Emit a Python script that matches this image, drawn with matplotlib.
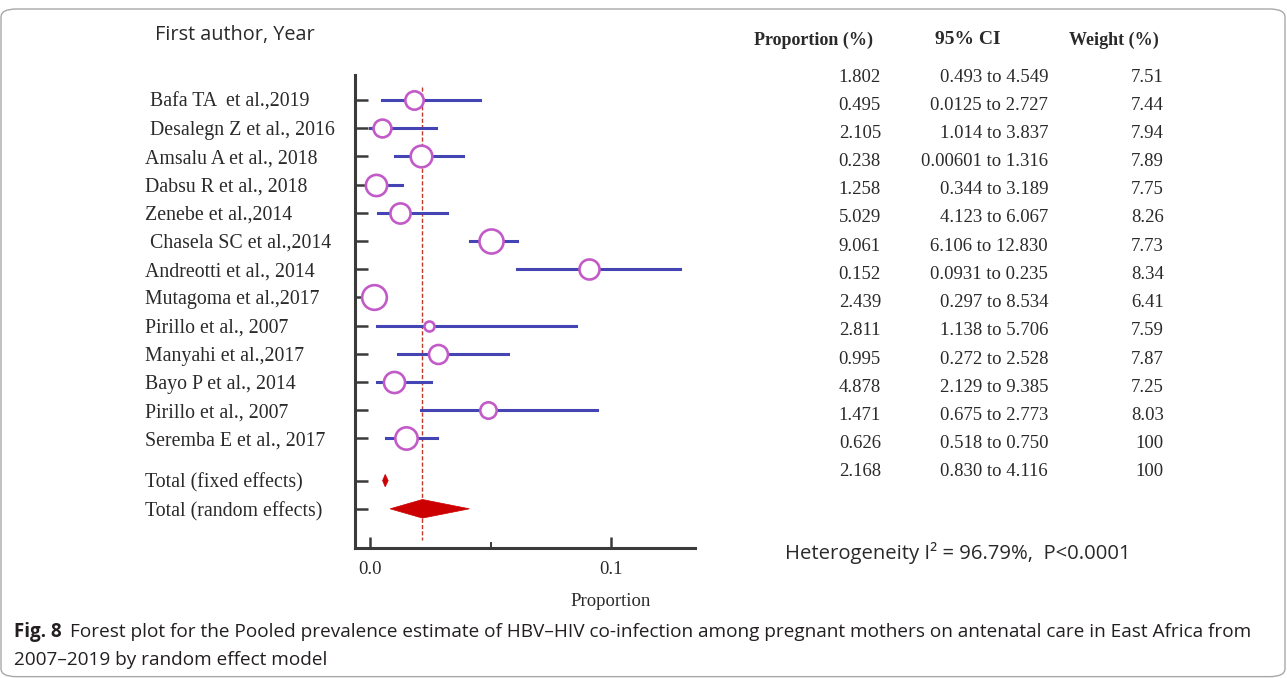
import matplotlib.pyplot as plt
from matplotlib.transforms import blended_transform_factory
from matplotlib.patches import FancyBboxPatch, Polygon

# --- data ---
studies = [" Bafa TA  et al.,2019", " Desalegn Z et al., 2016", "Amsalu A et al., 2018",
           "Dabsu R et al., 2018", "Zenebe et al.,2014", " Chasela SC et al.,2014",
           "Andreotti et al., 2014", "Mutagoma et al.,2017", "Pirillo et al., 2007",
           "Manyahi et al.,2017", "Bayo P et al., 2014", "Pirillo et al., 2007",
           "Seremba E et al., 2017"]
proportion = [1.802, 0.495, 2.105, 0.238, 1.258, 5.029, 9.061, 0.152, 2.439, 2.811, 0.995, 4.878, 1.471]
ci_low = [0.493, 0.0125, 1.014, 0.00601, 0.344, 4.123, 6.106, 0.0931, 0.297, 1.138, 0.272, 2.129, 0.675]
ci_high = [4.549, 2.727, 3.837, 1.316, 3.189, 6.067, 12.830, 0.235, 8.534, 5.706, 2.528, 9.385, 2.773]
ci_text = ["0.493 to 4.549", "0.0125 to 2.727", "1.014 to 3.837", "0.00601 to 1.316",
           "0.344 to 3.189", "4.123 to 6.067", "6.106 to 12.830", "0.0931 to 0.235",
           "0.297 to 8.534", "1.138 to 5.706", "0.272 to 2.528", "2.129 to 9.385",
           "0.675 to 2.773"]
weight = [7.51, 7.44, 7.94, 7.89, 7.75, 8.26, 7.73, 8.34, 6.41, 7.59, 7.87, 7.25, 8.03]

total_labels = ["Total (fixed effects)", "Total (random effects)"]
total_prop = [0.626, 2.168]
total_low = [0.518, 0.830]
total_high = [0.750, 4.116]
total_ci_text = ["0.518 to 0.750", "0.830 to 4.116"]
total_weight = ["100", "100"]

heterogeneity = "Heterogeneity I\u00b2 = 96.79%,  P<0.0001"

W, H = 1287, 678
fig = plt.figure(figsize=(W / 100, H / 100), dpi=100)


def fx(px):
    return px / W


def fy(py):
    return 1 - py / H


SERIF = "Liberation Serif"
SANS = "Open Sans"
TXT = "#2a2a2a"
BLUE = "#4444b4"
PINK = "#c25ac8"
RED = "#cc0000"

# frame
fig.patches.append(FancyBboxPatch((fx(1), 0.002), fx(1284), fy(9) - 0.002,
                                  boxstyle="round,pad=0,rounding_size=0.012",
                                  transform=fig.transFigure, fill=False,
                                  edgecolor="#a8a8a8", linewidth=1.0))

ax = fig.add_axes([fx(355), fy(548), fx(695) - fx(355), (548 - 75) / H])

rows = list(range(len(studies)))
total_rows = [len(studies) + 0.5, len(studies) + 1.5]

# confidence intervals and markers
for y, p, lo, hi, w in zip(rows, proportion, ci_low, ci_high, weight):
    ax.plot([lo / 100, hi / 100], [y, y], color=BLUE, lw=2.2, zorder=2)
    r_px = 5 + 3.8 * (w - min(weight))
    ax.plot(p / 100, y, "o", ms=2 * r_px * 0.72, mfc="white", mec=PINK, mew=1.9, zorder=3)

# pooled estimates as diamonds
for y, p, lo, hi, h in zip(total_rows, total_prop, total_low, total_high, [0.22, 0.33]):
    ax.add_patch(Polygon([(lo / 100, y), (p / 100, y - h), (hi / 100, y), (p / 100, y + h)],
                         closed=True, facecolor=RED, edgecolor=RED, lw=0.5, zorder=3))

ax.plot([total_prop[1] / 100] * 2, [-0.45, 15.6], color="#c0392b", lw=1.0,
        ls=(0, (3, 1.5)), zorder=1)

ax.set_xlim(-0.00625, 0.1346)
ax.set_ylim(15.89, -0.887)
for s in ["top", "right"]:
    ax.spines[s].set_visible(False)
for s in ["left", "bottom"]:
    ax.spines[s].set_color("#3a3a3a")
    ax.spines[s].set_linewidth(2.2)

ax.set_yticks(rows + total_rows)
ax.tick_params(axis="y", direction="in", length=9, width=1.8, color="#3a3a3a", labelleft=False)
ax.set_xticks([0.0, 0.1])
ax.set_xticklabels(["0.0", "0.1"], fontfamily=SERIF, fontsize=13.5, color=TXT)
ax.set_xticks([0.05], minor=True)
ax.tick_params(axis="x", which="major", direction="in", length=8, width=1.8,
               color="#3a3a3a", pad=9)
ax.tick_params(axis="x", which="minor", direction="in", length=4, width=1.4, color="#3a3a3a")

fig.text(fx(611), fy(602), "Proportion", ha="center", va="center",
         fontfamily=SERIF, fontsize=13.5, color=TXT)

# study labels on the left
lab_tr = blended_transform_factory(fig.transFigure, ax.transData)
for y, name in zip(rows + total_rows, studies + total_labels):
    ax.text(fx(145), y, name, transform=lab_tr, ha="left", va="center_baseline",
            fontfamily=SERIF, fontsize=14.3, color=TXT, clip_on=False)

fig.text(fx(155), fy(35), "First author, Year", ha="left", va="center",
         fontfamily=SANS, fontsize=14.3, color=TXT)

# table on the right
fig.text(fx(813), fy(40), "Proportion (%)", ha="center", va="center",
         fontfamily=SERIF, fontsize=13, fontweight="bold", color=TXT)
fig.text(fx(968), fy(40), "95% CI", ha="center", va="center",
         fontfamily=SERIF, fontsize=14, fontweight="bold", color=TXT)
fig.text(fx(1114), fy(40), "Weight (%)", ha="center", va="center",
         fontfamily=SERIF, fontsize=13, fontweight="bold", color=TXT)

col_prop = [f"{v:.3f}" for v in proportion + total_prop]
col_ci = ci_text + total_ci_text
col_w = [f"{v:.2f}" for v in weight] + total_weight
for i, (a, b, c) in enumerate(zip(col_prop, col_ci, col_w)):
    yy = fy(77 + 28.2 * i)
    fig.text(fx(881), yy, a, ha="right", va="center", fontfamily=SERIF, fontsize=13.5, color=TXT)
    fig.text(fx(1048), yy, b, ha="right", va="center", fontfamily=SERIF, fontsize=13.5, color=TXT)
    fig.text(fx(1164), yy, c, ha="right", va="center", fontfamily=SERIF, fontsize=13.5, color=TXT)

fig.text(fx(785), fy(553), heterogeneity, ha="left", va="center",
         fontfamily=SANS, fontsize=14.6, color=TXT)

# caption
fig.text(fx(14), fy(632), "Fig. 8", ha="left", va="center",
         fontfamily=SANS, fontsize=13.5, fontweight="bold", color="#231f20")
fig.text(fx(70), fy(632),
         "Forest plot for the Pooled prevalence estimate of HBV\u2013HIV co-infection among "
         "pregnant mothers on antenatal care in East Africa from",
         ha="left", va="center", fontfamily=SANS, fontsize=13.7, color="#231f20")
fig.text(fx(14), fy(660), "2007\u20132019 by random effect model", ha="left", va="center",
         fontfamily=SANS, fontsize=13.7, color="#231f20")

fig.savefig("out.png", dpi=100)
